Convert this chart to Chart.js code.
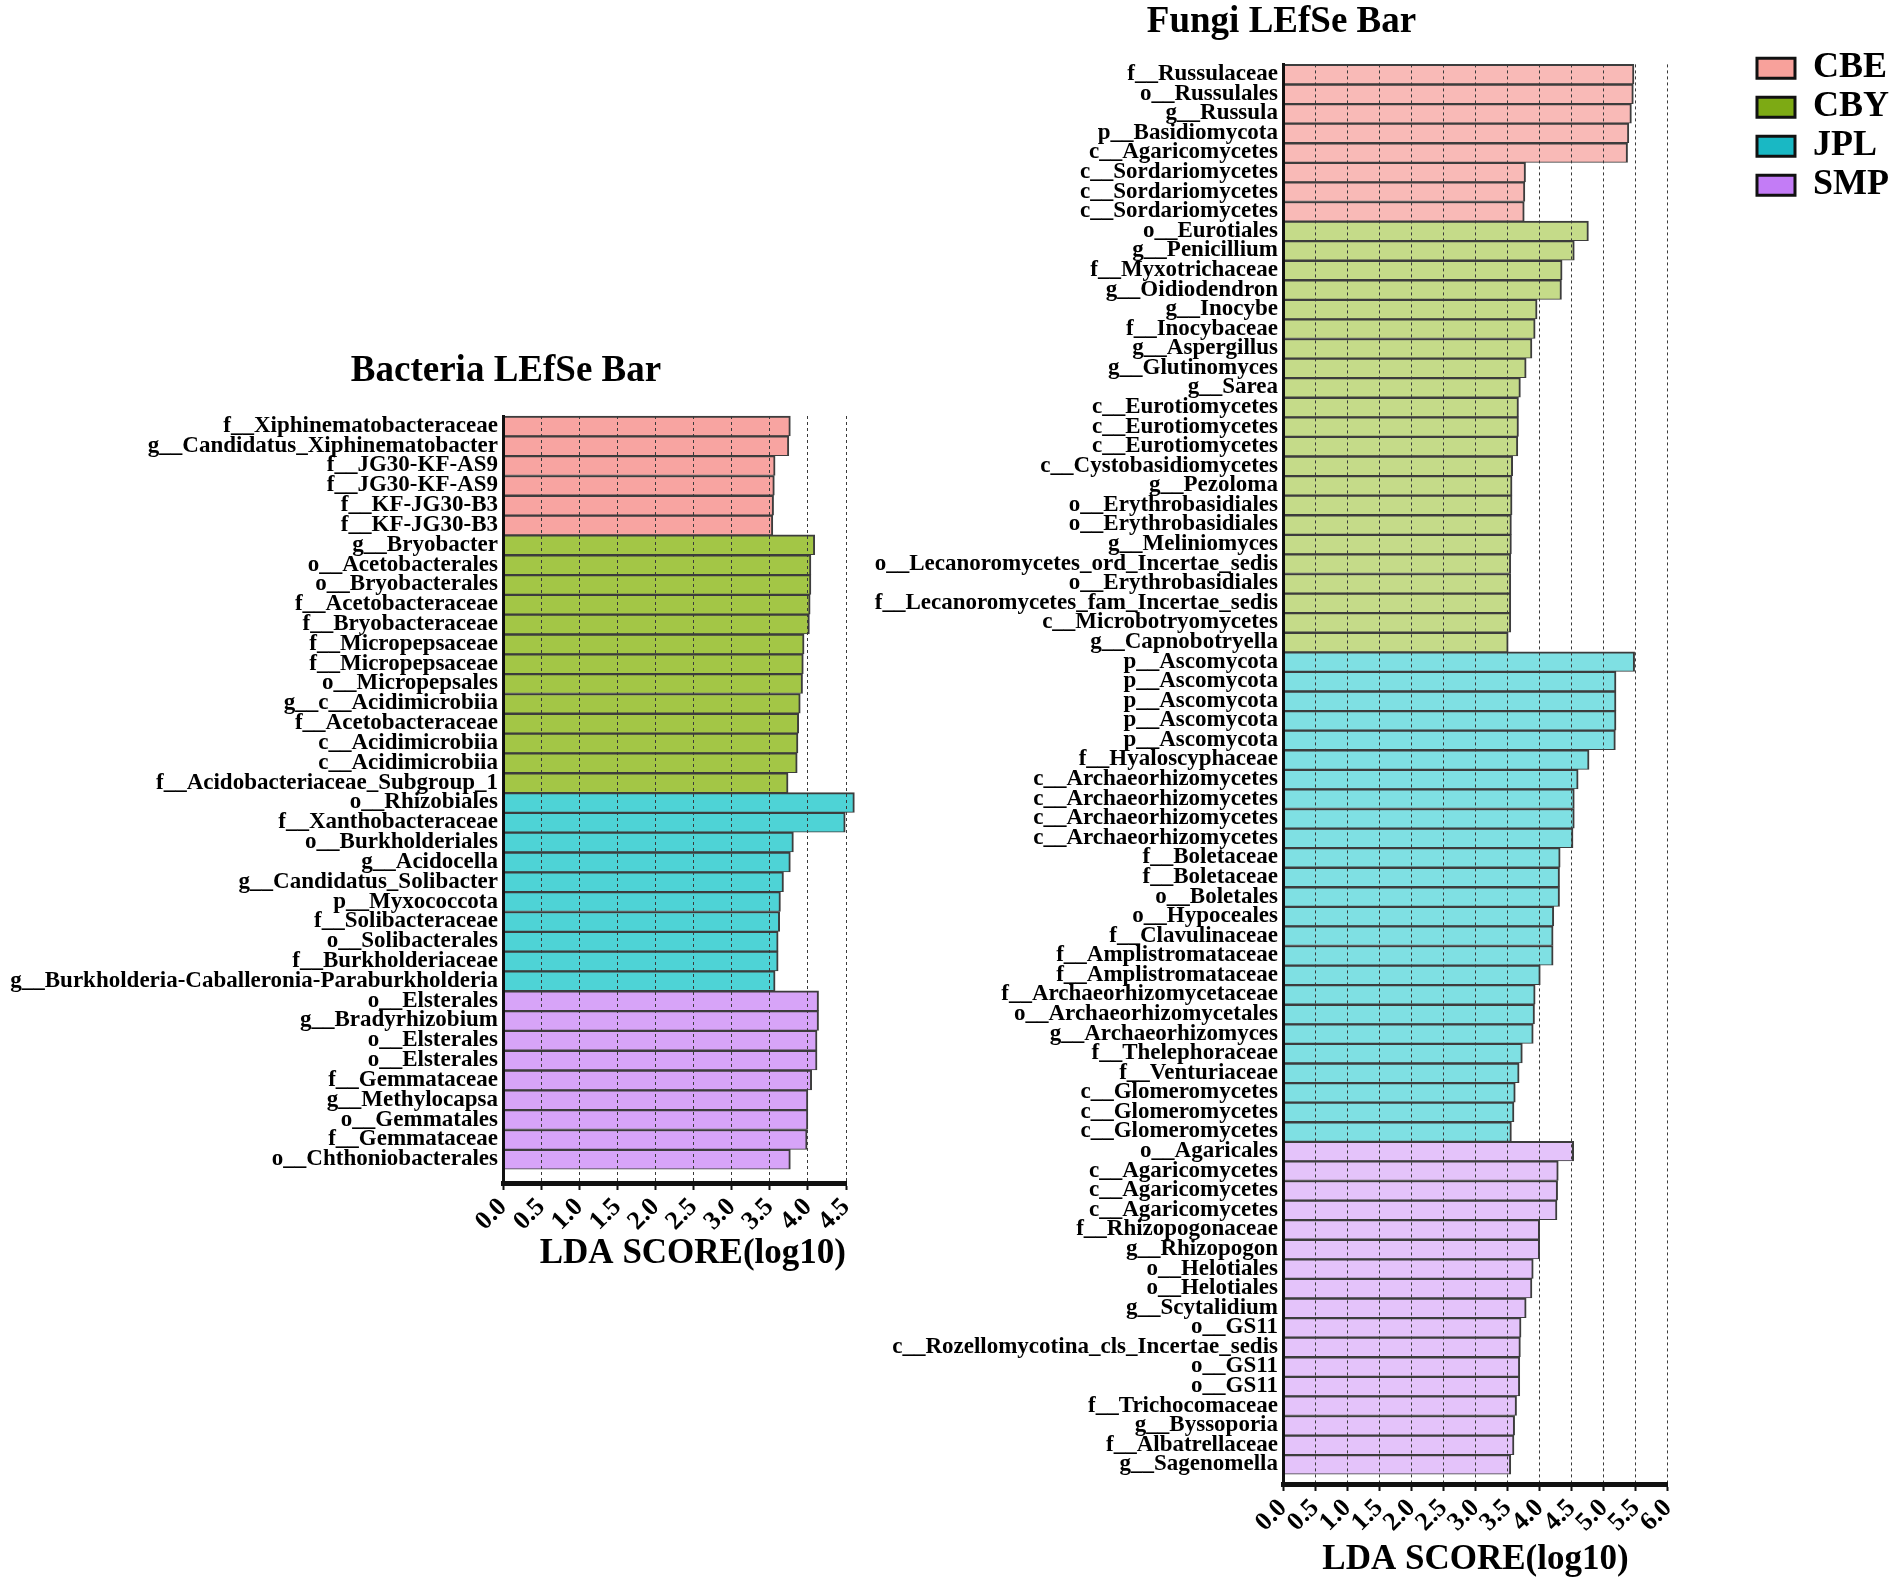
<!DOCTYPE html>
<html>
<head>
<meta charset="utf-8">
<title>LEfSe Bar</title>
<script src="https://cdn.jsdelivr.net/npm/chart.js@4.4.0/dist/chart.umd.min.js"></script>
<style>
  html, body { margin: 0; padding: 0; background: #fff; }
  body { width: 1902px; height: 1585px; position: relative; overflow: hidden; }
  .box { position: absolute; }
  #bacBox { left: 0; top: 340px; width: 1012px; height: 943px; }
  #funBox { left: 664px; top: 0; width: 1238px; height: 1585px; }
</style>
</head>
<body>
<div class="box" id="bacBox"><canvas id="bacteria"></canvas></div>
<div class="box" id="funBox"><canvas id="fungi"></canvas></div>
<script>
const groups = ['CBE', 'CBY', 'JPL', 'SMP'];

// Bacteria
const bacCBELabels = ['f__Xiphinematobacteraceae', 'g__Candidatus_Xiphinematobacter', 'f__JG30-KF-AS9', 'f__JG30-KF-AS9',
  'f__KF-JG30-B3', 'f__KF-JG30-B3'];
const bacCBEValues = [3.77, 3.75, 3.57, 3.56, 3.55, 3.54];
const bacCBYLabels = ['g__Bryobacter', 'o__Acetobacterales', 'o__Bryobacterales', 'f__Acetobacteraceae', 'f__Bryobacteraceae',
  'f__Micropepsaceae', 'f__Micropepsaceae', 'o__Micropepsales', 'g__c__Acidimicrobiia', 'f__Acetobacteraceae',
  'c__Acidimicrobiia', 'c__Acidimicrobiia', 'f__Acidobacteriaceae_Subgroup_1'];
const bacCBYValues = [4.09, 4.04, 4.04, 4.03, 4.02, 3.95, 3.94, 3.93, 3.90, 3.88, 3.87, 3.86, 3.74];
const bacJPLLabels = ['o__Rhizobiales', 'f__Xanthobacteraceae', 'o__Burkholderiales', 'g__Acidocella', 'g__Candidatus_Solibacter',
  'p__Myxococcota', 'f__Solibacteraceae', 'o__Solibacterales', 'f__Burkholderiaceae',
  'g__Burkholderia-Caballeronia-Paraburkholderia'];
const bacJPLValues = [4.61, 4.49, 3.81, 3.77, 3.68, 3.64, 3.63, 3.61, 3.61, 3.57];
const bacSMPLabels = ['o__Elsterales', 'g__Bradyrhizobium', 'o__Elsterales', 'o__Elsterales', 'f__Gemmataceae',
  'g__Methylocapsa', 'o__Gemmatales', 'f__Gemmataceae', 'o__Chthoniobacterales'];
const bacSMPValues = [4.14, 4.14, 4.12, 4.12, 4.05, 4.00, 4.00, 3.99, 3.77];
const bacTicks = ['0.0', '0.5', '1.0', '1.5', '2.0', '2.5', '3.0', '3.5', '4.0', '4.5'];

// Fungi
const funCBELabels = ['f__Russulaceae', 'o__Russulales', 'g__Russula', 'p__Basidiomycota', 'c__Agaricomycetes',
  'c__Sordariomycetes', 'c__Sordariomycetes', 'c__Sordariomycetes'];
const funCBEValues = [5.47, 5.46, 5.43, 5.39, 5.37, 3.78, 3.77, 3.76];
const funCBYLabels = ['o__Eurotiales', 'g__Penicillium', 'f__Myxotrichaceae', 'g__Oidiodendron', 'g__Inocybe',
  'f__Inocybaceae', 'g__Aspergillus', 'g__Glutinomyces', 'g__Sarea', 'c__Eurotiomycetes', 'c__Eurotiomycetes',
  'c__Eurotiomycetes', 'c__Cystobasidiomycetes', 'g__Pezoloma', 'o__Erythrobasidiales', 'o__Erythrobasidiales',
  'g__Meliniomyces', 'o__Lecanoromycetes_ord_Incertae_sedis', 'o__Erythrobasidiales',
  'f__Lecanoromycetes_fam_Incertae_sedis', 'c__Microbotryomycetes', 'g__Capnobotryella'];
const funCBYValues = [4.76, 4.54, 4.35, 4.34, 3.96, 3.93, 3.88, 3.79, 3.70, 3.67, 3.67, 3.66, 3.58, 3.57, 3.57, 3.56,
  3.56, 3.55, 3.55, 3.55, 3.55, 3.51];
const funJPLLabels = ['p__Ascomycota', 'p__Ascomycota', 'p__Ascomycota', 'p__Ascomycota', 'p__Ascomycota',
  'f__Hyaloscyphaceae', 'c__Archaeorhizomycetes', 'c__Archaeorhizomycetes', 'c__Archaeorhizomycetes',
  'c__Archaeorhizomycetes', 'f__Boletaceae', 'f__Boletaceae', 'o__Boletales', 'o__Hypoceales', 'f__Clavulinaceae',
  'f__Amplistromataceae', 'f__Amplistromataceae', 'f__Archaeorhizomycetaceae', 'o__Archaeorhizomycetales',
  'g__Archaeorhizomyces', 'f__Thelephoraceae', 'f__Venturiaceae', 'c__Glomeromycetes', 'c__Glomeromycetes',
  'c__Glomeromycetes'];
const funJPLValues = [5.48, 5.19, 5.19, 5.19, 5.18, 4.77, 4.60, 4.54, 4.54, 4.52, 4.32, 4.31, 4.31, 4.22, 4.21, 4.21,
  4.01, 3.93, 3.92, 3.90, 3.73, 3.68, 3.62, 3.60, 3.56];
const funSMPLabels = ['o__Agaricales', 'c__Agaricomycetes', 'c__Agaricomycetes', 'c__Agaricomycetes',
  'f__Rhizopogonaceae', 'g__Rhizopogon', 'o__Helotiales', 'o__Helotiales', 'g__Scytalidium', 'o__GS11',
  'c__Rozellomycotina_cls_Incertae_sedis', 'o__GS11', 'o__GS11', 'f__Trichocomaceae', 'g__Byssoporia',
  'f__Albatrellaceae', 'g__Sagenomella'];
const funSMPValues = [4.53, 4.29, 4.28, 4.27, 4.00, 4.00, 3.90, 3.88, 3.79, 3.71, 3.70, 3.69, 3.69, 3.64, 3.61, 3.60,
  3.55];
const funTicks = ['0.0', '0.5', '1.0', '1.5', '2.0', '2.5', '3.0', '3.5', '4.0', '4.5', '5.0', '5.5', '6.0'];

const bacColors = ['#F8A4A1', '#A3C646', '#4ED3D6', '#D7A4F8'];
const funColors = ['#F9BAB7', '#C5DB89', '#7FE0E3', '#E4C3FA'];
const legendColors = ['#F8A19B', '#7DAA14', '#19B8C4', '#C37CF6'];

const serif = "'Liberation Serif', 'Times New Roman', serif";
Chart.defaults.font.family = serif;
Chart.defaults.font.weight = 'bold';
Chart.defaults.color = '#000';

// one dataset per group, nulls elsewhere, so each bar fills its whole row
function buildData(labelSets, valueSets, colors) {
  const labels = [].concat(...labelSets);
  let start = 0;
  const datasets = valueSets.map((vals, g) => {
    const data = labels.map(() => null);
    vals.forEach((v, i) => { data[start + i] = v; });
    start += vals.length;
    return {
      label: groups[g],
      data: data,
      backgroundColor: colors[g],
      borderColor: '#3d3d3d',
      borderWidth: { top: 2, right: 2, bottom: 1, left: 0 },
      borderSkipped: 'start',
      grouped: false,
      barPercentage: 1,
      categoryPercentage: 1,
      clip: false,
      xAxisID: 'x',
      yAxisID: 'y'
    };
  });
  return { labels, datasets };
}

function xScale(max, ticks, titleAlign, height, titleBottom) {
  return {
    type: 'linear', position: 'bottom', min: 0, max: max,
    ticks: {
      stepSize: 0.5, autoSkip: false, minRotation: 45, maxRotation: 45, padding: 2,
      font: { size: 26, weight: 'bold' }, color: '#000',
      callback: (v, i) => ticks[i]
    },
    grid: { color: '#3a3a3a', lineWidth: 1, z: 1, drawTicks: true, tickLength: 7, tickColor: '#111', tickWidth: 2 },
    border: { display: true, color: '#111', width: 5, dash: [3, 3], z: 1 },
    title: {
      display: true, text: 'LDA SCORE(log10)', align: titleAlign,
      font: { size: 35, weight: 'bold', lineHeight: 1.2 }, color: '#000',
      padding: { top: 0, bottom: titleBottom }
    },
    afterFit: s => { s.height = height; }
  };
}

function yScale(width, gapRows) {
  return {
    type: 'category', offset: true,
    grid: { display: false, drawTicks: false },
    border: { display: true, color: '#111', width: 3, z: 1 },
    ticks: { autoSkip: false, padding: 5, font: { size: 23, weight: 'bold' }, color: '#000' },
    afterFit: s => { s.width = width; },
    // leave a small empty band between the last bar and the x axis
    afterBuildTicks: s => { s._valueRange += gapRows; }
  };
}

// empty box on the right, keeps the title centred over the whole canvas
function spacer(width) {
  return {
    type: 'linear', position: 'right', display: true,
    grid: { display: false, drawOnChartArea: false, drawTicks: false },
    ticks: { display: false },
    border: { display: false },
    afterFit: s => { s.width = width; }
  };
}

const bacData = buildData([bacCBELabels, bacCBYLabels, bacJPLLabels, bacSMPLabels],
  [bacCBEValues, bacCBYValues, bacJPLValues, bacSMPValues], bacColors);

new Chart(document.getElementById('bacteria'), {
  type: 'bar',
  data: bacData,
  options: {
    indexAxis: 'y',
    responsive: true,
    maintainAspectRatio: false,
    animation: false,
    plugins: {
      legend: { display: false },
      tooltip: { enabled: false },
      title: {
        display: true, text: 'Bacteria LEfSe Bar', color: '#000',
        font: { size: 37, weight: 'bold', lineHeight: 1.2 },
        padding: { top: 9, bottom: 22.6 }
      }
    },
    scales: {
      x: xScale(4.5, bacTicks, 'end', 100, 8),
      y: yScale(503, 0.7),
      spacer: spacer(166)
    }
  }
});

const funData = buildData([funCBELabels, funCBYLabels, funJPLLabels, funSMPLabels],
  [funCBEValues, funCBYValues, funJPLValues, funSMPValues], funColors);

new Chart(document.getElementById('fungi'), {
  type: 'bar',
  data: funData,
  options: {
    indexAxis: 'y',
    responsive: true,
    maintainAspectRatio: false,
    animation: false,
    layout: { padding: { right: 3 } },
    plugins: {
      tooltip: { enabled: false },
      title: {
        display: true, text: 'Fungi LEfSe Bar', color: '#000',
        font: { size: 37, weight: 'bold', lineHeight: 1.2 },
        padding: { top: 0, bottom: 20 }
      },
      legend: {
        display: true, position: 'right', align: 'start', fullSize: true,
        title: { display: true, text: '', padding: { top: 46, bottom: 0 }, font: { size: 1 } },
        labels: {
          boxWidth: 38, boxHeight: 20, padding: 3, color: '#000',
          font: { size: 36, weight: 'bold' },
          generateLabels: () => groups.map((g, i) => ({
            text: g, fillStyle: legendColors[i], strokeStyle: '#111', lineWidth: 3,
            hidden: false, datasetIndex: i
          }))
        }
      }
    },
    scales: {
      x: xScale(6, funTicks, 'center', 101, 4),
      y: yScale(619, 0.5),
      spacer: spacer(86)
    }
  }
});
</script>
</body>
</html>
